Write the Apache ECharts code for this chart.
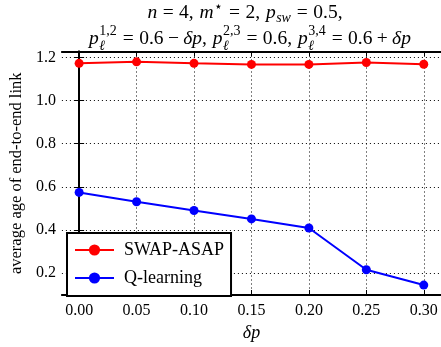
<!DOCTYPE html>
<html>
<head>
<meta charset="utf-8">
<script src="https://cdn.jsdelivr.net/npm/echarts@6/dist/echarts.min.js"></script>
<style>
  html, body { margin: 0; padding: 0; background: #fff; }
  #chart { width: 441px; height: 347px; }
</style>
</head>
<body>
<div id="chart"></div>
<script>
// delta p values on the x axis
const deltaP = [0.00, 0.05, 0.10, 0.15, 0.20, 0.25, 0.30];
// average age of the end-to-end link for each policy
const swapAsap = [1.173, 1.180, 1.173, 1.168, 1.168, 1.177, 1.169];
const qLearning = [0.574, 0.531, 0.490, 0.451, 0.409, 0.215, 0.144];
// tick positions
const xTicks = [0.00, 0.05, 0.10, 0.15, 0.20, 0.25, 0.30];
const yTicks = [0.2, 0.4, 0.6, 0.8, 1.0, 1.2];

const SERIF = 'Liberation Serif';
const chart = echarts.init(document.getElementById('chart'));

// --- math-style title built from text runs ---
const measureCtx = document.createElement('canvas').getContext('2d');
function textWidth(t, size, italic) {
  measureCtx.font = (italic ? 'italic ' : '') + size + "px 'Liberation Serif'";
  return measureCtx.measureText(t).width;
}
function textEl(t, x, y, size, italic) {
  return { type: 'text', x: x, y: y, silent: true, style: {
    text: t, fontFamily: SERIF, fontSize: size, fontStyle: italic ? 'italic' : 'normal',
    fill: '#000', align: 'left', verticalAlign: 'middle' } };
}
// run: {t, it, gl, gr} text with side gaps in em; {sup, sub, ...} stacked scripts
function layoutLine(runs, cx, cy, size) {
  const small = Math.round(size * 0.7);
  const items = [];
  const widths = runs.map(r => {
    if (r.t !== undefined) return textWidth(r.t, size, r.it) + ((r.gl || 0) + (r.gr || 0)) * size;
    const a = r.sup ? textWidth(r.sup, small, r.supIt) : 0;
    const b = r.sub ? textWidth(r.sub, small, r.subIt) : 0;
    return Math.max(a, b) + 1;
  });
  const total = widths.reduce((s, v) => s + v, 0);
  let x = cx - total / 2;
  runs.forEach((r, i) => {
    if (r.t !== undefined) {
      items.push(textEl(r.t, x + (r.gl || 0) * size, cy, size, r.it));
    } else {
      if (r.sup) items.push(textEl(r.sup, x + 0.5, cy + r.supDy, small, r.supIt));
      if (r.sub) items.push(textEl(r.sub, x + 0.5, cy + r.subDy, small, r.subIt));
    }
    x += widths[i];
  });
  return items;
}

const TH = 0.278, MD = 0.222, SP = 0.3;
const eq = { t: '=', gl: TH, gr: TH };
const line1 = [
  { t: 'n', it: true }, eq, { t: '4,', gr: SP },
  { t: 'm', it: true }, { sup: '\u22c6', supDy: -6 },
  eq, { t: '2,', gr: SP },
  { t: 'p', it: true }, { sub: 'sw', subIt: true, subDy: 5 },
  eq, { t: '0.5,' }
];
const pl = (s) => ({ sup: s, sub: '\u2113', subIt: true, supDy: -8, subDy: 7 });
const line2 = [
  { t: 'p', it: true }, pl('1,2'), eq, { t: '0.6' }, { t: '\u2212', gl: MD, gr: MD },
  { t: '\u03b4p', it: true }, { t: ',', gr: SP },
  { t: 'p', it: true }, pl('2,3'), eq, { t: '0.6,', gr: SP },
  { t: 'p', it: true }, pl('3,4'), eq, { t: '0.6' }, { t: '+', gl: MD, gr: MD },
  { t: '\u03b4p', it: true }
];
const titleItems = layoutLine(line1, 245, 13, 19.5).concat(layoutLine(line2, 250, 39, 19.5));

const tickStyle = { show: true, inside: true, length: 5, lineStyle: { color: '#000', width: 1 } };
const frameLine = { show: true, lineStyle: { color: '#000', width: 2 } };
const gridLine = { show: true, lineStyle: { color: '#000', width: 1, type: [1, 3] } };

const option = {
  backgroundColor: '#fff',
  animation: false,
  grid: { left: 58, top: 51.5, width: 385, height: 247.5, containLabel: false },
  xAxis: [{
    type: 'value', min: -0.015, max: 0.315, position: 'bottom',
    name: '\u03b4p', nameLocation: 'middle', nameGap: 29,
    nameTextStyle: { fontFamily: SERIF, fontStyle: 'italic', fontSize: 18, color: '#000' },
    axisLine: frameLine,
    axisTick: Object.assign({ customValues: xTicks }, tickStyle),
    axisLabel: { customValues: xTicks, margin: 8, fontFamily: SERIF, fontSize: 16, color: '#000',
      formatter: v => v.toFixed(2) },
    splitLine: gridLine
  }, {
    type: 'value', min: -0.015, max: 0.315, position: 'top',
    axisLine: frameLine,
    axisTick: Object.assign({ customValues: xTicks }, tickStyle),
    axisLabel: { show: false }, splitLine: { show: false }
  }],
  yAxis: [{
    type: 'value', min: 0.098, max: 1.228, position: 'left',
    name: 'average age of end-to-end link', nameLocation: 'middle', nameGap: 36,
    nameTextStyle: { fontFamily: SERIF, fontSize: 16.5, color: '#000' },
    axisLine: frameLine,
    axisTick: Object.assign({ customValues: yTicks }, tickStyle),
    axisLabel: { customValues: yTicks, margin: 6, fontFamily: SERIF, fontSize: 16, color: '#000',
      formatter: v => v.toFixed(1) },
    splitLine: gridLine
  }, {
    type: 'value', min: 0.098, max: 1.228, position: 'right',
    axisLine: frameLine,
    axisTick: Object.assign({ customValues: yTicks }, tickStyle),
    axisLabel: { show: false }, splitLine: { show: false }
  }],
  legend: {
    orient: 'vertical', left: 67, top: 233,
    padding: [8, 7, 9, 7],
    backgroundColor: '#fff', borderColor: '#000', borderWidth: 2,
    itemWidth: 39, itemHeight: 14, itemGap: 10,
    textStyle: { fontFamily: SERIF, fontSize: 18, lineHeight: 14, color: '#000', padding: [0, 0, 0, 5] },
    data: ['SWAP-ASAP', 'Q-learning']
  },
  series: [{
    name: 'SWAP-ASAP', type: 'line',
    data: deltaP.map((x, i) => [x, swapAsap[i]]),
    symbol: 'circle', symbolSize: 9,
    itemStyle: { color: '#ff0000' }, lineStyle: { color: '#ff0000', width: 2 }
  }, {
    name: 'Q-learning', type: 'line',
    data: deltaP.map((x, i) => [x, qLearning[i]]),
    symbol: 'circle', symbolSize: 9,
    itemStyle: { color: '#0000ff' }, lineStyle: { color: '#0000ff', width: 2 }
  }],
  graphic: titleItems
};
chart.setOption(option);
</script>
</body>
</html>
